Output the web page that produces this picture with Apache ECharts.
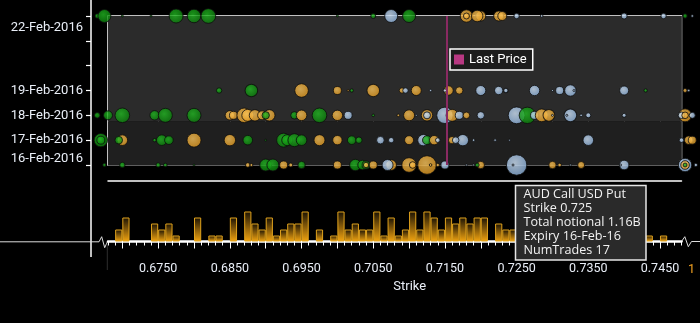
<!DOCTYPE html>
<html><head><meta charset="utf-8">
<script src="https://cdn.jsdelivr.net/npm/echarts@6/dist/echarts.min.js"></script>
<style>html,body{margin:0;padding:0;background:#000;}#c{width:700px;height:323px;}</style>
</head><body><div id="c"></div>
<script>
// ---- data ----
const expiryDates  = ['2016-02-16','2016-02-17','2016-02-18','2016-02-19','2016-02-22'];
const expiryLabels = ['16-Feb-2016','17-Feb-2016','18-Feb-2016','19-Feb-2016','22-Feb-2016'];
const axisStartDate = '2016-02-16', axisEndDate = '2016-02-22';
const shadeUntil = '2016-02-17T18:00:00Z';
// bubbles: [strike, total notional (USD m), type]  G / O = AUD Put USD Call / B = AUD Call USD Put
const feb22 = [[0.6665,59,'G'],[0.6675,469,'G'],[0.670,11,'G'],[0.674,11,'G'],[0.6775,544,'G'],[0.680,507,'G'],[0.682,600,'G'],
  [0.700,11,'G'],[0.705,69,'G'],[0.7075,469,'B'],[0.710,469,'G'],[0.718,427,'O'],[0.718,100,'O'],[0.720,278,'O'],[0.7195,368,'O'],
  [0.7225,278,'O'],[0.723,225,'O'],[0.725,81,'B'],[0.7285,19,'B'],[0.740,100,'B'],[0.7455,81,'B'],[0.7485,51,'G'],[0.7495,19,'B']];
const feb19 = [[0.6835,81,'G'],[0.688,441,'G'],[0.695,514,'O'],[0.700,178,'O'],[0.7015,11,'O'],[0.702,32,'G'],[0.705,441,'O'],
  [0.709,81,'O'],[0.7095,81,'B'],[0.711,278,'O'],[0.713,16,'B'],[0.7155,246,'O'],[0.715,32,'B'],[0.717,152,'O'],[0.720,278,'B'],
  [0.7225,192,'B'],[0.7235,51,'B'],[0.7275,295,'B'],[0.730,11,'B'],[0.731,178,'B'],[0.7325,361,'B'],[0.733,11,'B'],[0.740,225,'B'],
  [0.743,32,'G'],[0.7485,44,'O'],[0.749,19,'B']];
const feb18 = [[0.6665,87,'G'],[0.668,225,'G'],[0.670,593,'G'],[0.6745,246,'G'],[0.676,544,'G'],[0.680,544,'G'],[0.685,246,'O'],
  [0.6855,178,'O'],[0.687,593,'O'],[0.6875,400,'O'],[0.6885,361,'O'],[0.6895,225,'O'],[0.6905,361,'O'],[0.690,152,'G'],[0.694,152,'G'],
  [0.695,312,'O'],[0.6975,593,'G'],[0.700,300,'O'],[0.7015,178,'B'],[0.705,19,'G'],[0.7085,19,'O'],[0.710,336,'O'],[0.711,11,'B'],
  [0.7125,361,'O'],[0.7125,136,'B'],[0.715,748,'B'],[0.716,400,'O'],[0.717,178,'B'],[0.718,121,'O'],[0.720,152,'B'],[0.725,785,'B'],
  [0.7265,748,'G'],[0.7275,178,'B'],[0.7285,455,'O'],[0.7295,380,'O'],[0.730,11,'B'],[0.7325,441,'B'],[0.732,11,'B'],[0.734,19,'B'],
  [0.735,69,'B'],[0.740,44,'B'],[0.7485,469,'O'],[0.748,121,'B'],[0.7485,121,'O'],[0.7495,100,'B']];
const feb17 = [[0.667,500,'G'],[0.667,178,'G'],[0.670,312,'O'],[0.6695,161,'G'],[0.6745,32,'G'],[0.6755,312,'G'],[0.6765,206,'G'],
  [0.680,544,'O'],[0.685,361,'O'],[0.6875,256,'G'],[0.690,11,'G'],[0.6925,544,'G'],[0.693,336,'G'],[0.694,469,'G'],[0.695,312,'G'],
  [0.6975,336,'O'],[0.700,246,'O'],[0.702,206,'G'],[0.703,114,'G'],[0.706,161,'B'],[0.7075,81,'B'],[0.710,225,'O'],[0.712,361,'B'],
  [0.7125,225,'G'],[0.7135,246,'O'],[0.714,59,'B'],[0.716,152,'O'],[0.7175,361,'B'],[0.7165,121,'B'],[0.719,19,'B'],[0.722,19,'B'],
  [0.724,11,'B'],[0.735,312,'B'],[0.748,59,'B'],[0.749,196,'O'],[0.7495,178,'O']];
const feb16 = [[0.6675,32,'G'],[0.670,81,'G'],[0.675,54,'G'],[0.676,38,'G'],[0.680,11,'G'],[0.6875,59,'O'],[0.688,25,'O'],
  [0.690,400,'G'],[0.691,400,'G'],[0.6925,178,'O'],[0.6935,44,'O'],[0.695,152,'G'],[0.700,178,'O'],[0.7025,361,'G'],[0.7035,246,'G'],
  [0.704,178,'G'],[0.704,81,'O'],[0.705,178,'O'],[0.7075,312,'O'],[0.707,336,'B'],[0.710,593,'O'],[0.7105,121,'O'],[0.7125,962,'O'],
  [0.713,19,'O'],[0.714,32,'O'],[0.715,178,'B'],[0.718,11,'B'],[0.719,11,'B'],[0.720,152,'O'],[0.7195,44,'G'],[0.725,1160,'B'],
  [0.7245,11,'B'],[0.730,152,'O'],[0.731,36,'O'],[0.7325,11,'B'],[0.734,136,'O'],[0.740,256,'B'],[0.7395,11,'B'],[0.7485,500,'B'],
  [0.7485,206,'O'],[0.7485,44,'G'],[0.750,32,'B']];
const rows = [feb16, feb17, feb18, feb19, feb22];
// trade counts per strike bucket (bucket starts at strike, width 0.001)
const barStrikes = [0.669,0.670,0.674,0.675,0.676,0.677,0.680,0.682,0.683,0.685,0.687,0.688,0.689,0.690,0.691,0.692,0.693,0.694,0.695,
  0.697,0.699,0.700,0.701,0.702,0.703,0.704,0.705,0.706,0.707,0.708,0.709,0.710,0.711,0.712,0.713,0.714,0.715,0.716,0.717,0.718,0.719,
  0.720,0.722,0.723,0.724,0.743,0.745];
const barTrades  = [2,4,3,2,3,1,4,1,1,4,5,3,2,4,1,2,3,3,5,2,1,5,2,3,2,2,5,1,4,1,2,5,2,5,4,2,4,3,4,3,4,4,3,2,2,1,1];
const lastPrice = 0.7152;
const strikeMin = 0.668, strikeMax = 0.748, bucket = 0.001;
const strikeLabels = [0.675,0.685,0.695,0.705,0.715,0.725,0.735,0.745];
const tipLines = ['AUD Call USD Put','Strike 0.725','Total notional 1.16B','Expiry 16-Feb-16','NumTrades 17'];

// ---- build ----
const ts = d => Date.parse(d.length === 10 ? d + 'T00:00:00Z' : d);
const DAY = 86400000;
const expiryTs = expiryDates.map(ts);
const RG = echarts.graphic.RadialGradient;
const palette = {
  G: new RG(0.42,0.4,0.6,[{offset:0,color:'#22b822'},{offset:1,color:'#0b7d0b'}]),
  O: new RG(0.42,0.4,0.6,[{offset:0,color:'#f9c45c'},{offset:1,color:'#df9820'}]),
  B: new RG(0.42,0.4,0.6,[{offset:0,color:'#cfe2f6'},{offset:1,color:'#8db2dc'}])
};
const minorTicks = [], majorTicks = [];
for (let i = 0; i <= Math.round((strikeMax - strikeMin) / bucket); i++) {
  const v = +(strikeMin + i * bucket).toFixed(4);
  minorTicks.push(v);
  if (Math.abs(v / 0.005 - Math.round(v / 0.005)) < 1e-6) majorTicks.push(v);
}
const txt = '#e9eef7';
const yFont = 'Roboto';
const bubbleSeries = rows.map((arr, r) => ({
  type: 'scatter', name: expiryLabels[r], xAxisIndex: 0, yAxisIndex: 0, clip: false, silent: true,
  symbolSize: v => Math.max(2, 0.6 * Math.sqrt(v[2])),
  itemStyle: { borderColor: '#0c0c0c', borderWidth: 1 },
  data: arr.map(([s, n, t]) => ({ value: [s, expiryTs[r], n], itemStyle: { color: palette[t] } }))
}));

const chart = echarts.init(document.getElementById('c'), null, { renderer: 'canvas' });
chart.setOption({
  backgroundColor: '#000',
  animation: false,
  grid: [
    { left: 108, right: 18.5, top: 16, height: 149, show: true, backgroundColor: 'transparent', borderColor: '#fff', borderWidth: 1.5 },
    { left: 108, right: 18.5, top: 205.5, height: 36 }
  ],
  legend: {
    data: [{ name: 'Last Price', icon: 'rect' }], left: 450, top: 49, padding: [4, 6, 4, 4],
    itemWidth: 10, itemHeight: 10, itemGap: 5, selectedMode: false,
    backgroundColor: '#1c1c1c', borderColor: '#fff', borderWidth: 1.5,
    textStyle: { color: '#fff', fontSize: 13, fontFamily: 'Roboto' }
  },
  xAxis: [
    { gridIndex: 0, type: 'value', min: strikeMin, max: strikeMax, splitNumber: 16, offset: 16,
      axisLine: { show: true, lineStyle: { color: '#fff', width: 1.5 } }, axisTick: { show: false }, axisLabel: { show: false },
      splitLine: { show: true, lineStyle: { color: '#5e5e5e', width: 1 } } },
    { gridIndex: 1, type: 'value', min: strikeMin, max: strikeMax, position: 'bottom',
      name: 'Strike', nameLocation: 'middle', nameGap: 39,
      nameTextStyle: { color: txt, fontSize: 13, fontFamily: 'Roboto', padding: [0, 0, 0, 30] },
      axisLine: { show: true, lineStyle: { color: '#fff', width: 2.5 } },
      axisTick: { show: true, customValues: minorTicks, length: 4, lineStyle: { color: '#fff', width: 1 } },
      axisLabel: { show: true, customValues: strikeLabels, margin: 21, color: txt, fontSize: 12.5, fontFamily: 'Roboto',
        formatter: v => v.toFixed(4) },
      splitLine: { show: false } },
    { gridIndex: 1, type: 'value', min: strikeMin, max: strikeMax, position: 'bottom',
      axisLine: { show: false }, axisLabel: { show: false }, splitLine: { show: false },
      axisTick: { show: true, customValues: majorTicks, length: 7, lineStyle: { color: '#fff', width: 1 } } }
  ],
  yAxis: [
    { gridIndex: 0, type: 'value', min: ts(axisStartDate), max: ts(axisEndDate), interval: DAY, offset: 17,
      axisLine: { show: false },
      axisTick: { show: true, length: 5, lineStyle: { color: '#fff', width: 1.2 } },
      splitLine: { show: true, lineStyle: { color: '#5e5e5e', width: 1 } },
      axisLabel: { margin: 8,
        formatter: v => {
          const i = expiryTs.findIndex(t => Math.abs(t - v) < 1000);
          if (i < 0) return '';
          if (i === expiryTs.length - 1) return '{lo|' + expiryLabels[i] + '}';
          if (i === 0) return '{hi|' + expiryLabels[i] + '}';
          return '{n|' + expiryLabels[i] + '}';
        },
        rich: {
          n:  { color: txt, fontSize: 13, fontFamily: yFont },
          lo: { color: txt, fontSize: 13, fontFamily: yFont, lineHeight: 36, verticalAlign: 'bottom' },
          hi: { color: txt, fontSize: 13, fontFamily: yFont, lineHeight: 26, verticalAlign: 'top' }
        } } },
    { gridIndex: 1, type: 'value', min: 0, max: 6, show: false, splitLine: { show: false } }
  ],
  series: [
    { type: 'scatter', name: 'Last Price', xAxisIndex: 0, yAxisIndex: 0, z: -1, silent: true, data: [],
      itemStyle: { color: '#e0409c' },
      markArea: { silent: true, label: { show: false },
        data: [
          [{ yAxis: ts(axisStartDate), itemStyle: { color: '#1f1f1f' } }, { yAxis: ts(shadeUntil) }],
          [{ yAxis: ts(shadeUntil), itemStyle: { color: '#2b2b2b' } }, { yAxis: ts(axisEndDate) }]
        ] },
      markLine: { silent: true, symbol: 'none', label: { show: false },
        lineStyle: { color: '#8a2a62', width: 2, type: 'solid' },
        data: [[{ coord: [lastPrice, ts(axisStartDate)] }, { coord: [lastPrice, ts(axisEndDate)] }]] } },
    ...bubbleSeries,
    { type: 'bar', name: 'Trades', xAxisIndex: 1, yAxisIndex: 1, silent: true, barWidth: 7.2,
      data: barStrikes.map((s, i) => [+(s + bucket / 2).toFixed(4), barTrades[i]]),
      itemStyle: { borderColor: '#e0a21c', borderWidth: 1,
        color: new echarts.graphic.LinearGradient(0, 0, 0, 1, [{ offset: 0, color: '#1a1204' }, { offset: 1, color: '#f2a410' }]) } }
  ],
  graphic: [
    { type: 'line', silent: true, shape: { x1: 91, y1: 0, x2: 91, y2: 257 }, style: { stroke: '#fff', lineWidth: 1.5 } },
    { type: 'polyline', silent: true, shape: { points: [[0, 241.8], [99, 241.8], [101.7, 236.7], [104.7, 247.7], [107.5, 241.5]] },
      style: { stroke: '#dcdcdc', lineWidth: 1, fill: null } },
    { type: 'polyline', silent: true, shape: { points: [[681.5, 241.5], [684.8, 236.7], [688.3, 246.7], [691.5, 241.5], [700, 241.5]] },
      style: { stroke: '#dcdcdc', lineWidth: 1, fill: null } },
    { type: 'line', silent: true, shape: { x1: 107.3, y1: 243, x2: 107.3, y2: 270 }, style: { stroke: '#2e2e2e', lineWidth: 1 } },
    { type: 'text', silent: true, x: 688, y: 263, style: { text: '1', fill: '#f0a020', font: '12.5px Roboto' } },
    { type: 'rect', silent: true, z: 200, zlevel: 1, shape: { x: 515.5, y: 185.5, width: 130.5, height: 74.5 },
      style: { fill: '#2a2a2a', stroke: '#e6e6e6', lineWidth: 1.5 } },
    { type: 'text', silent: true, z: 201, zlevel: 1, x: 523.5, y: 187,
      style: { text: tipLines.join('\n'), fill: '#f2f2f2', font: '12.6px "Open Sans"', lineHeight: 14.2 } }
  ]
});
</script></body></html>
